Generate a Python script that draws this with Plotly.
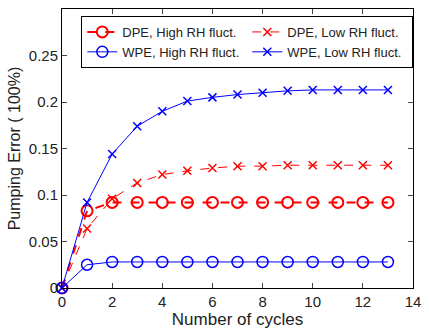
import plotly.graph_objects as go

cycles = list(range(0, 14))
dpe_high = [0, 0.083, 0.092, 0.092, 0.092, 0.092, 0.092, 0.092, 0.092, 0.092, 0.092, 0.092, 0.092, 0.092]
dpe_low = [0, 0.064, 0.096, 0.113, 0.122, 0.126, 0.129, 0.131, 0.131, 0.132, 0.132, 0.132, 0.132, 0.132]
wpe_high = [0, 0.025, 0.028, 0.028, 0.028, 0.028, 0.028, 0.028, 0.028, 0.028, 0.028, 0.028, 0.028, 0.028]
wpe_low = [0, 0.092, 0.144, 0.174, 0.190, 0.201, 0.205, 0.208, 0.210, 0.212, 0.213, 0.213, 0.213, 0.213]

names = ["DPE, High RH fluct.", "DPE, Low RH fluct.", "WPE, High RH fluct.", "WPE, Low RH fluct."]
xticks = [0, 2, 4, 6, 8, 10, 12, 14]
yticks = [0, 0.05, 0.1, 0.15, 0.2, 0.25]
yticklabels = ["0", "0.05", "0.1", "0.15", "0.2", "0.25"]

RED = "#ff0000"
BLUE = "#0000ff"

fig = go.Figure()
fig.add_trace(go.Scatter(x=cycles, y=dpe_high, name=names[0], mode="lines+markers",
                         line=dict(color=RED, width=2, dash="dash"),
                         marker=dict(symbol="circle-open", size=11, color=RED, line=dict(width=2)),
                         cliponaxis=False))
fig.add_trace(go.Scatter(x=cycles, y=dpe_low, name=names[1], mode="lines+markers",
                         line=dict(color=RED, width=1, dash="dash"),
                         marker=dict(symbol="x-thin-open", size=8, color=RED, line=dict(width=1.5, color=RED)),
                         cliponaxis=False))
fig.add_trace(go.Scatter(x=cycles, y=wpe_high, name=names[2], mode="lines+markers",
                         line=dict(color=BLUE, width=1),
                         marker=dict(symbol="circle-open", size=11, color=BLUE, line=dict(width=1.5)),
                         cliponaxis=False))
fig.add_trace(go.Scatter(x=cycles, y=wpe_low, name=names[3], mode="lines+markers",
                         line=dict(color=BLUE, width=1),
                         marker=dict(symbol="x-thin-open", size=8, color=BLUE, line=dict(width=1.5, color=BLUE)),
                         cliponaxis=False))

fig.update_layout(
    width=429, height=330,
    margin=dict(l=62, r=9, t=8, b=41),
    paper_bgcolor="white", plot_bgcolor="white",
    font=dict(family="Liberation Sans, Arial", size=15, color="#222222"),
    legend=dict(orientation="h", x=0.055, y=0.975, xanchor="left", yanchor="top",
                bordercolor="black", borderwidth=1, bgcolor="white",
                entrywidth=120, font=dict(size=13), tracegroupgap=0,
                itemwidth=30),
    xaxis=dict(range=[0, 14], tickvals=xticks, ticks="inside", ticklen=5, mirror="ticks",
               showline=True, linecolor="black", linewidth=1, showgrid=False, zeroline=False,
               title=dict(text="Number of cycles", font=dict(size=17), standoff=0)),
    yaxis=dict(range=[0, 0.3], tickvals=yticks, ticktext=yticklabels, ticks="inside", ticklen=5,
               mirror="ticks", showline=True, linecolor="black", linewidth=1, showgrid=False,
               zeroline=False,
               title=dict(text="Pumping Error ( 100%)", font=dict(size=16), standoff=4)),
)

fig.write_html("out.html")
